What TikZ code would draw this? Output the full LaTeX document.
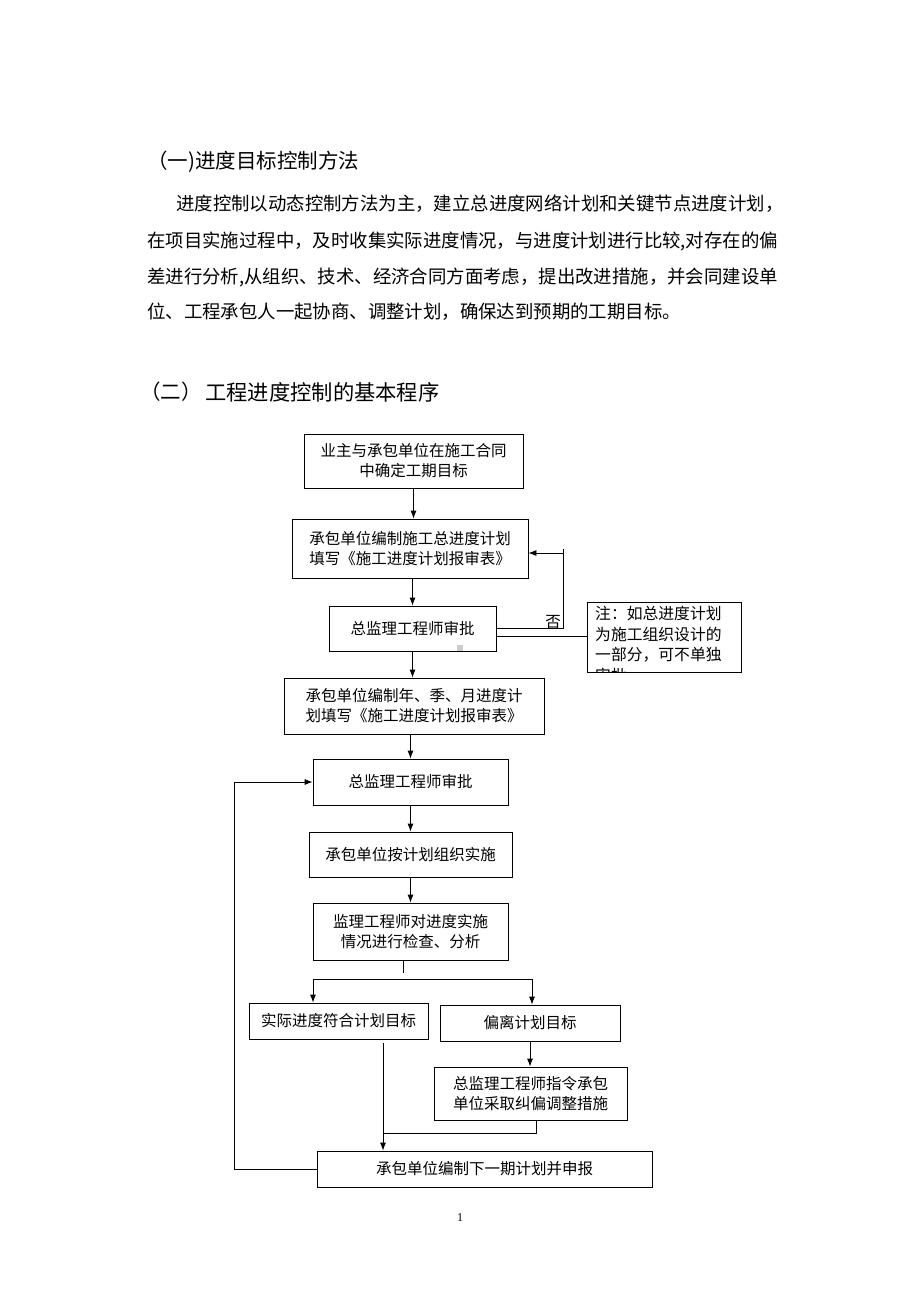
\documentclass[tikz,border=0pt]{standalone}
\usepackage{fontspec}
\setmainfont{Liberation Serif}
\newfontfamily\cjk{Noto Sans CJK SC}
\usetikzlibrary{arrows.meta}
\begin{document}
\begin{tikzpicture}[x=1pt,y=-1pt,
  box/.style={draw, line width=0.8pt, inner sep=0pt, align=center, font=\cjk\fontsize{15.5}{20}\selectfont},
  arr/.style={-{Latex[length=8pt,width=6pt]}, line width=0.8pt},
  ln/.style={line width=0.8pt},
  para/.style={anchor=west, inner sep=0pt, font=\cjk\fontsize{18.4}{20}\selectfont},
  head/.style={anchor=west, inner sep=0pt, font=\cjk\fontsize{20.5}{22}\selectfont}]
\path[use as bounding box, fill=white] (0,0) rectangle (920,1302);

% text above the chart
\node[head] (h1) at (147,162) {（一)进度目标控制方法};
\node[para] (p1) at (176,204) {进度控制以动态控制方法为主，建立总进度网络计划和关键节点进度计划，};
\node[para] (p2) at (147,241) {在项目实施过程中，及时收集实际进度情况，与进度计划进行比较,对存在的偏};
\node[para] (p3) at (147,277) {差进行分析,从组织、技术、经济合同方面考虑，提出改进措施，并会同建设单};
\node[para] (p4) at (147,312) {位、工程承包人一起协商、调整计划，确保达到预期的工期目标。};
\node[head] (h2a) at (140,392) {（二）};
\node[head, font=\cjk\fontsize{21.3}{22}\selectfont] (h2b) at (205,392) {工程进度控制的基本程序};

% boxes
\node[box, minimum width=219pt, minimum height=54pt] (b1) at (413.5,461) {业主与承包单位在施工合同\\中确定工期目标};
\node[box, minimum width=236pt, minimum height=59pt] (b2) at (410,548.5) {承包单位编制施工总进度计划\\填写《施工进度计划报审表》};
\node[box, minimum width=167pt, minimum height=45pt] (b3) at (412.5,628.5) {总监理工程师审批};
\node[box, minimum width=154pt, minimum height=70pt] (note) at (664,637) {};
\begin{scope}
\clip (note.north west) rectangle (note.south east);
\node[anchor=north west, inner sep=0pt, align=left, font=\cjk\fontsize{15.8}{20.6}\selectfont] (notetext) at (595,606) {注：如总进度计划\\为施工组织设计的\\一部分，可不单独\\审批};
\end{scope}
\node[box, minimum width=260pt, minimum height=56pt] (b4) at (414,706) {承包单位编制年、季、月进度计\\划填写《施工进度计划报审表》};
\node[box, minimum width=195pt, minimum height=46pt] (b5) at (410.5,782) {总监理工程师审批};
\node[box, minimum width=203pt, minimum height=45pt] (b6) at (410.5,854.5) {承包单位按计划组织实施};
\node[box, minimum width=195pt, minimum height=57pt] (b7) at (410.5,931.5) {监理工程师对进度实施\\情况进行检查、分析};
\node[box, minimum width=179pt, minimum height=36pt] (b8) at (338.5,1021) {实际进度符合计划目标};
\node[box, minimum width=180pt, minimum height=36pt] (b9) at (530,1023) {偏离计划目标};
\node[box, minimum width=193pt, minimum height=53pt] (b11) at (530.5,1093.5) {总监理工程师指令承包\\单位采取纠偏调整措施};
\node[box, minimum width=335pt, minimum height=36pt] (b10) at (484.5,1169) {承包单位编制下一期计划并申报};

% small grey mark
\fill[gray!40] (457,645) rectangle (463,651);

% connectors
\draw[arr] (b1.south) -- (b1.south |- b2.north);
\draw[arr] (b3.north |- b2.south) -- (b3.north);
\draw[arr] (b3.south) -- (b3.south |- b4.north);
\draw[arr] (b5.north |- b4.south) -- (b5.north);
\draw[arr] (b5.south) -- (b6.north);
\draw[arr] (b6.south) -- (b7.north);

% "no" feedback
\coordinate (fa) at (563,628);
\coordinate (fb) at (563,549);
\coordinate (fc) at (563,553);
\draw[ln] (b3.east |- fa) -- (fa) -- (fb);
\draw[arr] (fc) -- (b2.east |- fc);
\node[inner sep=0pt, font=\cjk\fontsize{15.5}{16}\selectfont] (no) at (553,622) {否};
\coordinate (nc) at (587,636);
\draw[ln] (b3.east |- nc) -- (note.west |- nc);

% split after check
\coordinate (t) at (403,973);
\draw[ln] (b7.south -| t) -- (t);
\coordinate (sl) at (313,979);
\coordinate (sr) at (532,979);
\draw[ln] (sl) -- (sr);
\draw[arr] (sl) -- (sl |- b8.north);
\draw[arr] (sr) -- (sr |- b9.north);
\draw[arr] (b9.south) -- (b9.south |- b11.north);

\coordinate (m) at (383,1043);
\draw[arr] (m) -- (m |- b10.north);
\coordinate (k) at (536,1133);
\coordinate (j) at (383,1133);
\draw[ln] (b11.south -| k) -- (k) -- (j);

% left loop back
\coordinate (lf) at (234,782);
\draw[arr] (b10.west) -| (lf) -- (b5.west);

% page number
\node[inner sep=0pt, font=\fontsize{12}{14}\selectfont] (pg) at (460,1218) {1};
\end{tikzpicture}
\end{document}
